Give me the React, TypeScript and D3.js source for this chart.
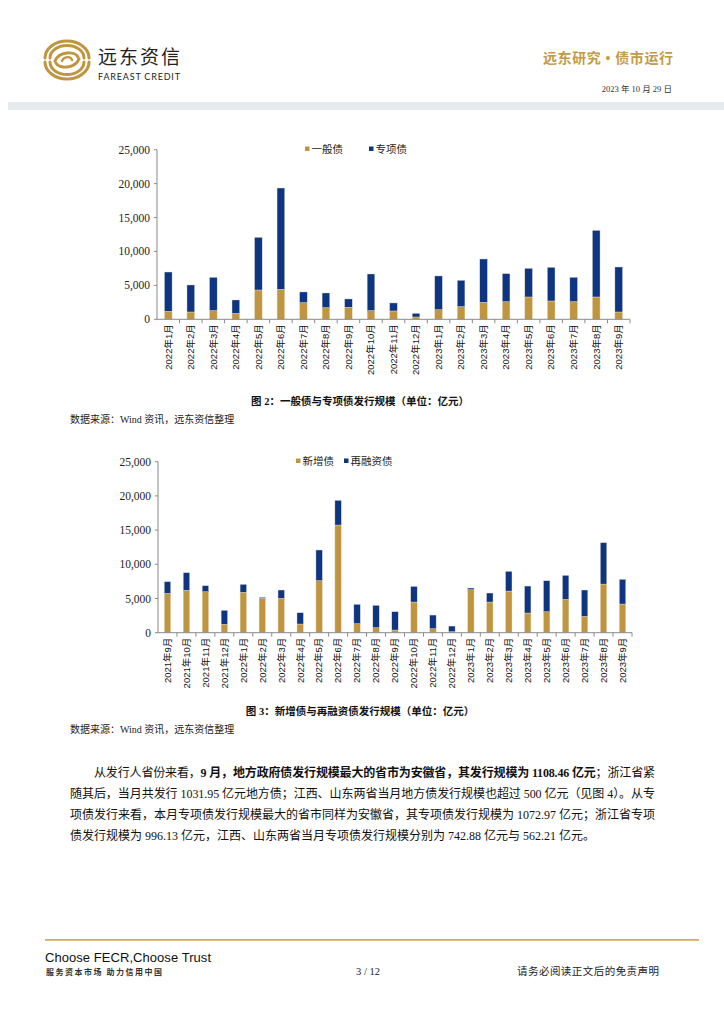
import React from 'react';
import * as d3 from 'd3';

// 图2
const months1 = [
  '2022年1月', '2022年2月', '2022年3月', '2022年4月', '2022年5月', '2022年6月',
  '2022年7月', '2022年8月', '2022年9月', '2022年10月', '2022年11月', '2022年12月',
  '2023年1月', '2023年2月', '2023年3月', '2023年4月', '2023年5月', '2023年6月',
  '2023年7月', '2023年8月', '2023年9月',
];
const generalDebt = [1180, 1080, 1280, 880, 4320, 4420, 2460, 1720, 1770, 1280, 1230, 340, 1420, 1870, 2500, 2600, 3290, 2700, 2600, 3290, 1080];
const specialDebt = [5790, 3980, 4910, 1970, 7760, 14930, 1570, 2160, 1230, 5400, 1180, 540, 4970, 3880, 6390, 4130, 4220, 4960, 3590, 9820, 6630];

// 图3
const months2 = [
  '2021年9月', '2021年10月', '2021年11月', '2021年12月',
  ...months1,
];
const newDebt = [5750, 6190, 5990, 1220, 5900, 5020, 5020, 1270, 7600, 15740, 1320, 730, 390, 4480, 580, 150, 6290, 4480, 6090, 2880, 3070, 4870, 2390, 7110, 4190];
const refiDebt = [1710, 2580, 880, 2050, 1170, 150, 1220, 1650, 4490, 3610, 2820, 3270, 2680, 2290, 2000, 820, 240, 1320, 2880, 3940, 4530, 3510, 3850, 6050, 3610];

const yTicks = [0, 5000, 10000, 15000, 20000, 25000];

const GOLD = '#C0953F';
const NAVY = '#0E3582';
const SERIF = '"Liberation Serif", "Noto Sans CJK SC", serif';
const SANS = '"Liberation Sans", Arial, "Noto Sans CJK SC", sans-serif';
const CJK = '"Liberation Serif", "Noto Sans CJK SC", serif';

interface StackProps {
  cats: string[];
  bottom: number[];
  top: number[];
  names: [string, string];
  x0: number;
  x1: number;
  yTop: number;
  yBottom: number;
  legendX: [number, number];
  legendY: number;
}

const StackChart: React.FC<StackProps> = ({ cats, bottom, top, names, x0, x1, yTop, yBottom, legendX, legendY }) => {
  const x = d3.scaleBand<string>().domain(cats).range([x0, x1]).paddingInner(0.66).paddingOuter(0.33);
  const step = (x1 - x0) / cats.length;
  const y = d3.scaleLinear().domain([0, 25000]).range([yBottom, yTop]);
  const rows = cats.map((c, i) => ({ cat: c, a: bottom[i], b: top[i] }));
  const stacked = d3.stack<{ cat: string; a: number; b: number }>().keys(['a', 'b'])(rows);
  const colors = [GOLD, NAVY];
  const fmt = d3.format(',');

  return (
    <g>
      {stacked.map((layer, li) => (
        <g key={li} fill={colors[li]}>
          {layer.map((d, i) => (
            <rect
              key={i}
              x={x(d.data.cat)}
              width={x.bandwidth()}
              y={y(d[1])}
              height={Math.max(0, y(d[0]) - y(d[1]))}
              stroke="#e9e2cf"
              strokeWidth={0.4}
            />
          ))}
        </g>
      ))}
      {/* y axis */}
      <line x1={x0} x2={x0} y1={yTop} y2={yBottom} stroke="#8a8a8a" strokeWidth={1} />
      {yTicks.map((t) => (
        <g key={t}>
          <line x1={x0 - 3} x2={x0} y1={y(t)} y2={y(t)} stroke="#8a8a8a" />
          <text x={x0 - 7} y={y(t) + 4} textAnchor="end" fontFamily={SERIF} fontSize={11.5} fill="#222">
            {fmt(t)}
          </text>
        </g>
      ))}
      {/* x axis */}
      <line x1={x0} x2={x1} y1={yBottom} y2={yBottom} stroke="#8a8a8a" strokeWidth={1} />
      {cats.map((c, i) => (
        <line key={'t' + i} x1={x0 + step * (i + 1)} x2={x0 + step * (i + 1)} y1={yBottom} y2={yBottom + 4} stroke="#8a8a8a" />
      ))}
      {cats.map((c) => {
        const cx = (x(c) as number) + x.bandwidth() / 2 + 3.3;
        const cy = yBottom + 5;
        return (
          <text
            key={c}
            transform={`translate(${cx},${cy}) rotate(-90)`}
            textAnchor="end"
            fontFamily={SANS}
            fontSize={9.5}
            fill="#111"
          >
            {c}
          </text>
        );
      })}
      {/* legend */}
      {names.map((n, i) => (
        <g key={n}>
          <rect x={legendX[i]} y={legendY - 2.5} width={4.5} height={4.5} fill={colors[i]} />
          <text x={legendX[i] + 6.5} y={legendY + 3.8} fontFamily={SANS} fontSize={10.5} fill="#222">
            {n}
          </text>
        </g>
      ))}
    </g>
  );
};

const Logo: React.FC = () => {
  const cx = 67;
  const cy = 60;
  const arcs = [
    { rx: 22, ry: 17 },
    { rx: 17, ry: 12.5 },
  ];
  return (
    <g fill="none" stroke={GOLD} strokeLinecap="round">
      {arcs.map((a, i) => (
        <g key={i} strokeWidth={3}>
          <path d={`M${cx - a.rx},${cy - 2} A${a.rx},${a.ry} 0 0 1 ${cx + a.rx},${cy - 2}`} />
          <path d={`M${cx - a.rx},${cy + 2} A${a.rx},${a.ry} 0 0 0 ${cx + a.rx},${cy + 2}`} />
        </g>
      ))}
      <path
        d={`M${cx - 12},${cy + 1} C${cx - 8},${cy - 9} ${cx + 8},${cy - 9} ${cx + 11},${cy - 3}`}
        strokeWidth={3}
      />
      <path
        d={`M${cx + 12},${cy - 1} C${cx + 8},${cy + 9} ${cx - 8},${cy + 9} ${cx - 11},${cy + 3}`}
        strokeWidth={3}
      />
      <path d={`M${cx - 5},${cy + 1} C${cx - 3},${cy - 4} ${cx + 4},${cy - 4} ${cx + 5},${cy}`} strokeWidth={2.4} />
    </g>
  );
};

export default function App() {
  return (
    <div style={{ position: 'absolute', left: 0, top: 0, width: 724, height: 1024, background: '#fff' }}>
      <svg width={724} height={1024} viewBox="0 0 724 1024">
        <rect width={724} height={1024} fill="#fff" />
        {/* header */}
        <Logo />
        <text x={98} y={64} fontFamily='"Noto Sans CJK SC", sans-serif' fontSize={19} fill="#222" textLength={82}>
          远东资信
        </text>
        <text x={98} y={79.5} fontFamily='Lato, "Liberation Sans", sans-serif' fontSize={9} fill="#222" textLength={82}>
          FAREAST CREDIT
        </text>
        <text x={543} y={63} fontFamily={CJK} fontSize={14} fontWeight={700} fill="#C39A45" textLength={130}>
          远东研究 • 债市运行
        </text>
        <text x={672} y={92} textAnchor="end" fontFamily={CJK} fontSize={8.5} fill="#333">
          2023 年 10 月 29 日
        </text>
        <rect x={8} y={102} width={716} height={8} fill="#E8EBEE" />

        {/* 图2 */}
        <StackChart
          cats={months1}
          bottom={generalDebt}
          top={specialDebt}
          names={['一般债', '专项债']}
          x0={157}
          x1={630}
          yTop={149.7}
          yBottom={319.3}
          legendX={[305, 369]}
          legendY={149}
        />
        <text x={360} y={405} textAnchor="middle" fontFamily={CJK} fontSize={10.5} fontWeight={700} fill="#111">
          图 2：一般债与专项债发行规模（单位：亿元）
        </text>
        <text x={70} y={423} fontFamily={CJK} fontSize={10} fill="#222">
          数据来源：Wind 资讯，远东资信整理
        </text>

        {/* 图3 */}
        <StackChart
          cats={months2}
          bottom={newDebt}
          top={refiDebt}
          names={['新增债', '再融资债']}
          x0={158}
          x1={632}
          yTop={461.7}
          yBottom={632.7}
          legendX={[296, 344]}
          legendY={461}
        />
        <text x={360} y={715} textAnchor="middle" fontFamily={CJK} fontSize={10.5} fontWeight={700} fill="#111">
          图 3：新增债与再融资债发行规模（单位：亿元）
        </text>
        <text x={70} y={733} fontFamily={CJK} fontSize={10} fill="#222">
          数据来源：Wind 资讯，远东资信整理
        </text>

        {/* paragraph */}
        <g fontFamily={CJK} fontSize={12} fill="#111">
          <text x={94} y={777} textLength={561} lengthAdjust="spacing">
            从发行人省份来看，
            <tspan fontWeight={700}>9 月，地方政府债发行规模最大的省市为安徽省，其发行规模为 1108.46 亿元</tspan>
            ；浙江省紧
          </text>
          <text x={70} y={798} textLength={585} lengthAdjust="spacing">
            随其后，当月共发行 1031.95 亿元地方债；江西、山东两省当月地方债发行规模也超过 500 亿元（见图 4）。从专
          </text>
          <text x={70} y={819} textLength={585} lengthAdjust="spacing">
            项债发行来看，本月专项债发行规模最大的省市同样为安徽省，其专项债发行规模为 1072.97 亿元；浙江省专项
          </text>
          <text x={70} y={840}>
            债发行规模为 996.13 亿元，江西、山东两省当月专项债发行规模分别为 742.88 亿元与 562.21 亿元。
          </text>
        </g>

        {/* footer */}
        <rect x={45} y={939} width={654} height={1.8} fill="#D2AE68" />
        <text x={45} y={962} fontFamily='"Liberation Sans", Arial, sans-serif' fontSize={13} fill="#111" textLength={166}>
          Choose FECR,Choose Trust
        </text>
        <text x={46} y={975} fontFamily='"Noto Sans CJK SC", sans-serif' fontSize={8} fontWeight={700} fill="#333" textLength={116}>
          服务资本市场 助力信用中国
        </text>
        <text x={368} y={975} textAnchor="middle" fontFamily={SERIF} fontSize={10.5} fill="#222">
          3 / 12
        </text>
        <text x={517} y={975} fontFamily={CJK} fontSize={10.5} fill="#222" textLength={142}>
          请务必阅读正文后的免责声明
        </text>
      </svg>
    </div>
  );
}
